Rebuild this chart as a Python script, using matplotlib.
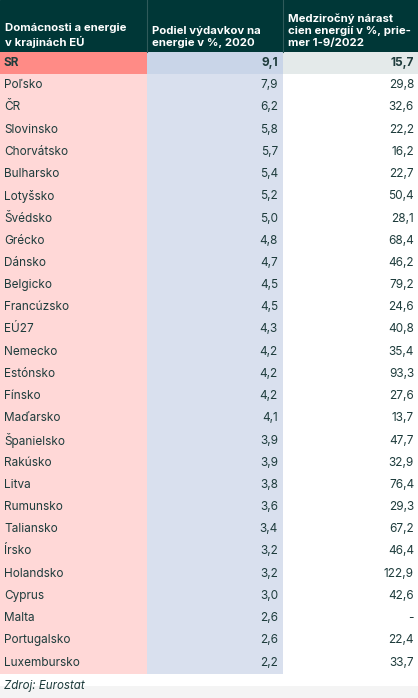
import matplotlib.pyplot as plt
from matplotlib.patches import Rectangle

plt.rcParams['font.family'] = ['Inter', 'DejaVu Sans']

headers = ["Domácnosti a energie\nv krajinách EÚ",
           "Podiel výdavkov na\nenergie v %, 2020",
           "Medziročný nárast\ncien energií v %, prie-\nmer 1-9/2022"]
countries = ["SR", "Poľsko", "ČR", "Slovinsko", "Chorvátsko", "Bulharsko", "Lotyšsko",
             "Švédsko", "Grécko", "Dánsko", "Belgicko", "Francúzsko", "EÚ27", "Nemecko",
             "Estónsko", "Fínsko", "Maďarsko", "Španielsko", "Rakúsko", "Litva", "Rumunsko",
             "Taliansko", "Írsko", "Holandsko", "Cyprus", "Malta", "Portugalsko", "Luxembursko"]
share_2020 = ["9,1", "7,9", "6,2", "5,8", "5,7", "5,4", "5,2", "5,0", "4,8", "4,7", "4,5",
              "4,5", "4,3", "4,2", "4,2", "4,2", "4,1", "3,9", "3,9", "3,8", "3,6", "3,4",
              "3,2", "3,2", "3,0", "2,6", "2,6", "2,2"]
growth_2022 = ["15,7", "29,8", "32,6", "22,2", "16,2", "22,7", "50,4", "28,1", "68,4", "46,2",
               "79,2", "24,6", "40,8", "35,4", "93,3", "27,6", "13,7", "47,7", "32,9", "76,4",
               "29,3", "67,2", "46,4", "122,9", "42,6", "-", "22,4", "33,7"]
source = "Zdroj: Eurostat"

W, H = 418, 698
col_x = [0, 147, 283, 418]
head_h = 52
row_h = 22.2
txt = "#1e3c3c"

fig = plt.figure(figsize=(W / 100, H / 100), dpi=100)
ax = fig.add_axes([0, 0, 1, 1])
ax.set_xlim(0, W)
ax.set_ylim(H, 0)
ax.axis("off")

ax.add_patch(Rectangle((0, 0), W, head_h, color="#003737"))
for c in (1, 2):
    ax.plot([col_x[c], col_x[c]], [0, head_h], color="#2f5a5a", lw=0.8)
for c, h in enumerate(headers):
    ax.text(col_x[c] + 5, head_h - 4, h, color="white", fontsize=8.2, fontweight="bold",
            va="bottom", ha="left", linespacing=1.25)

for i, (name, s, g) in enumerate(zip(countries, share_2020, growth_2022)):
    y = head_h + i * row_h
    sr = i == 0
    ax.add_patch(Rectangle((col_x[0], y), col_x[1] - col_x[0], row_h,
                           color="#ff8b86" if sr else "#ffd8d7", lw=0))
    ax.add_patch(Rectangle((col_x[1], y), col_x[2] - col_x[1], row_h,
                           color="#c9d5e8" if sr else "#d9e0ee", lw=0))
    if sr:
        ax.add_patch(Rectangle((col_x[2], y), col_x[3] - col_x[2], row_h, color="#e4eaea", lw=0))
    w = "bold" if sr else "normal"
    yc = y + row_h / 2
    ax.text(col_x[0] + 4, yc, name, color=txt, fontsize=8.5, fontweight=w, va="center")
    ax.text(col_x[2] - 5, yc, s, color=txt, fontsize=8.5, fontweight=w, va="center", ha="right")
    ax.text(col_x[3] - 4, yc, g, color=txt, fontsize=8.5, fontweight=w, va="center", ha="right")

foot_y = head_h + len(countries) * row_h
ax.add_patch(Rectangle((0, foot_y + 12), W, H - foot_y - 12, color="#f4f4f4", lw=0))
ax.text(4, foot_y + 12, source, color=txt, fontsize=8.3, style="italic", va="center")

fig.savefig("out.png", dpi=100)
